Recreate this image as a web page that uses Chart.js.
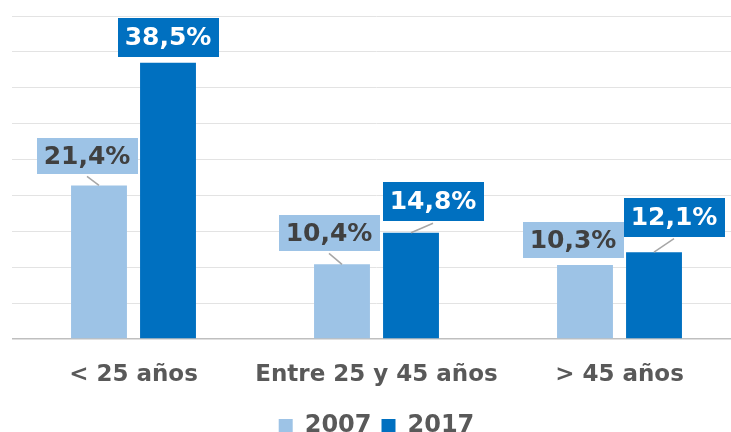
<!DOCTYPE html>
<html>
<head>
<meta charset="utf-8">
<script src="https://cdn.jsdelivr.net/npm/chart.js@4.4.1/dist/chart.umd.min.js"></script>
<style>
  html, body { margin: 0; padding: 0; background: #fff; overflow: hidden; }
  #wrap { position: absolute; left: 0; top: 0; width: 745px; height: 448px; }
</style>
</head>
<body>
<div id="wrap"><canvas id="chart1"></canvas></div>
<script>
// data
const categories = ['< 25 años', 'Entre 25 y 45 años', '> 45 años'];
const seriesNames = ['2007', '2017'];
const values2007 = [21.4, 10.4, 10.3];
const values2017 = [38.5, 14.8, 12.1];

// label box placement relative to top of bar (dx, dy of box centre)
const labelOffsets = [
    [[-12, -29], [-13, -31], [-12, -25]],
    [[0, -25], [22, -31], [20, -35]]
];

const FONT = '"DejaVu Sans", Verdana, sans-serif';

const boxLabels = {
    id: 'boxLabels',
    afterDatasetsDraw(chart) {
        const ctx = chart.ctx;
        const fills = ['#9DC3E6', '#0070C0'];
        const textColors = ['#404040', '#FFFFFF'];
        const heights = [36, 39];
        ctx.save();
        ctx.font = 'bold 25px ' + FONT;
        chart.data.datasets.forEach((ds, di) => {
            const meta = chart.getDatasetMeta(di);
            meta.data.forEach((bar, i) => {
                const txt = ds.data[i].toFixed(1).replace('.', ',') + '%';
                const w = ctx.measureText(txt).width + 14;
                const h = heights[di];
                const cx = bar.x + labelOffsets[di][i][0];
                const cy = bar.y + labelOffsets[di][i][1];
                const bottom = cy + h / 2;
                if (bar.y - bottom > 8) {
                    ctx.strokeStyle = '#A6A6A6';
                    ctx.lineWidth = 1.5;
                    ctx.beginPath();
                    ctx.moveTo(cx, bottom + 2);
                    ctx.lineTo(bar.x, bar.y);
                    ctx.stroke();
                }
                ctx.fillStyle = fills[di];
                ctx.fillRect(Math.round(cx - w / 2), Math.round(cy - h / 2), Math.round(w), h);
                ctx.fillStyle = textColors[di];
                ctx.textAlign = 'center';
                ctx.textBaseline = 'middle';
                ctx.fillText(txt, cx, cy + 1);
            });
        });
        ctx.restore();
    }
};

const data = {
    labels: categories,
    datasets: [
        {
            label: seriesNames[0],
            data: values2007,
            backgroundColor: '#9DC3E6',
            categoryPercentage: 0.568,
            barPercentage: 0.81
        },
        {
            label: seriesNames[1],
            data: values2017,
            backgroundColor: '#0070C0',
            categoryPercentage: 0.568,
            barPercentage: 0.81
        }
    ]
};

const options = {
    responsive: true,
    maintainAspectRatio: false,
    animation: false,
    layout: { padding: { left: 12, right: 4, top: 16, bottom: 0 } },
    plugins: {
        legend: {
            position: 'bottom',
            labels: {
                boxWidth: 14,
                boxHeight: 14,
                padding: 10,
                color: '#595959',
                font: { family: FONT, size: 24, weight: 'bold' }
            }
        },
        tooltip: { enabled: false }
    },
    scales: {
        x: {
            grid: { display: false },
            border: { display: false },
            ticks: {
                color: '#595959',
                padding: 14,
                maxRotation: 0,
                minRotation: 0,
                autoSkip: false,
                font: { family: FONT, size: 23, weight: 'bold' }
            },
            afterFit(scale) {
                scale.height = 65;
                scale.paddingLeft = 0;
                scale.paddingRight = 0;
            }
        },
        y: {
            min: 0,
            max: 45,
            ticks: { display: false, stepSize: 5 },
            border: { display: false },
            grid: {
                color: (c) => c.tick && c.tick.value === 0 ? '#BFBFBF' : '#E3E3E3',
                lineWidth: (c) => c.tick && c.tick.value === 0 ? 1.5 : 1,
                drawTicks: false
            },
            afterFit(scale) { scale.width = 0; }
        }
    }
};

const ctx = document.getElementById('chart1').getContext('2d');
const myChart = new Chart(ctx, {
    type: 'bar',
    data: data,
    options: options,
    plugins: [boxLabels]
});
</script>
</body>
</html>
